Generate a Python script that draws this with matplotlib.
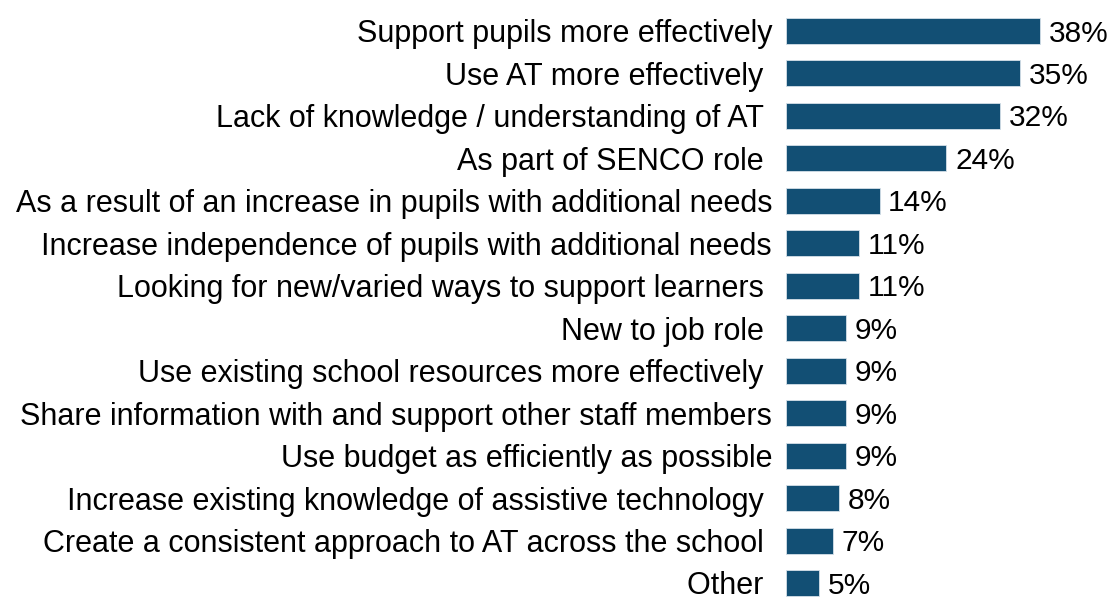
import matplotlib.pyplot as plt

# Reasons for seeking AT support (% of respondents)
reasons = [
    "Support pupils more effectively",
    "Use AT more effectively ",
    "Lack of knowledge / understanding of AT ",
    "As part of SENCO role ",
    "As a result of an increase in pupils with additional needs",
    "Increase independence of pupils with additional needs",
    "Looking for new/varied ways to support learners ",
    "New to job role ",
    "Use existing school resources more effectively ",
    "Share information with and support other staff members",
    "Use budget as efficiently as possible",
    "Increase existing knowledge of assistive technology ",
    "Create a consistent approach to AT across the school ",
    "Other ",
]
shares = [38, 35, 32, 24, 14, 11, 11, 9, 9, 9, 9, 8, 7, 5]

bar_color = "#124f74"

plt.rcParams['font.family'] = ['Liberation Sans', 'DejaVu Sans']

fig = plt.figure(figsize=(11.1, 5.97), dpi=100)
ax = fig.add_axes([786 / 1110, 0, 324 / 1110, 1])

pos = list(range(len(reasons)))
ax.barh(pos, shares, height=0.612, color=bar_color,
        edgecolor="#d5e0e8", linewidth=0.6)

for y, v in zip(pos, shares):
    ax.text(v + 1.3, y + 0.06, f"{v}%", va="center", ha="left",
            fontsize=21.5, color="black")

ax.set_xlim(0, 48.5)
ax.set_ylim(13.33, -0.73)
ax.set_yticks(pos)
ax.set_yticklabels(reasons, fontsize=22)
ax.tick_params(axis="y", length=0, pad=10)
ax.set_xticks([])
for s in ax.spines.values():
    s.set_visible(False)

fig.savefig("out.png", dpi=100)
